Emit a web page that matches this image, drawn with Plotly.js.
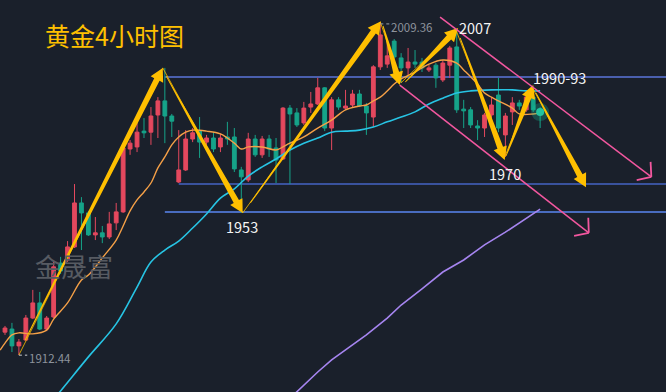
<!DOCTYPE html>
<html><head><meta charset="utf-8">
<script src="https://cdn.plot.ly/plotly-3.0.1.min.js"></script>
<style>html,body{margin:0;padding:0;background:#1a202b;}#chart{width:666px;height:392px;}</style>
</head><body><div id="chart"></div>
<script>
// ---- candle data (4h gold) ----
const open=[1919.1,1920.0,1915.1,1916.8,1923.2,1927.6,1920.0,1923.5,1939.2,1940.1,
1943.9,1956.7,1953.8,1947.4,1948.0,1946.8,1950.9,1954.1,1972.4,1973.0,
1977.6,1977.3,1982.3,1986.4,1982.0,1962.8,1966.3,1975.3,1977.6,1974.4,
1975.6,1973.0,1975.9,1975.9,1966.3,1963.4,1975.3,1970.7,1975.3,1972.7,
1969.5,1984.3,1982.9,1980.0,1984.6,1985.5,1990.2,1978.5,1986.7,1984.3,
1985.2,1988.4,1984.9,1981.7,1996.3,1997.1,2003.8,1998.9,1996.0,1997.7,
1997.7,1995.4,1996.8,1992.5,1996.8,2002.1,1984.0,1983.8,1979.1,1978.5,
1982.3,1988.1,1976.5,1983.2,1985.8,1983.8,1987.5,1983.8];
const high=[1920.9,1921.8,1917.1,1924.1,1931.4,1930.8,1923.8,1940.1,1941.0,1945.6,
1962.2,1958.4,1954.4,1952.6,1950.0,1954.1,1956.7,1973.6,1975.0,1981.7,
1981.4,1984.6,1987.5,1996.0,1982.6,1977.9,1977.9,1978.5,1981.7,1976.5,
1977.3,1976.8,1980.3,1978.5,1967.2,1977.1,1976.5,1976.2,1976.5,1975.6,
1984.6,1985.2,1984.3,1986.1,1989.0,1993.1,1990.4,1987.5,1987.5,1989.6,
1989.6,1989.6,1985.8,1996.8,2009.36,2004.4,2004.4,2000.3,2001.8,2001.2,
1998.9,1996.8,1997.4,1998.3,2002.4,2007.0,1986.7,1984.6,1980.8,1982.9,
1987.5,1993.1,1982.9,1987.5,1986.7,1988.7,1990.2,1984.6];
const low=[1918.3,1913.3,1912.44,1916.5,1922.9,1919.7,1919.4,1923.2,1936.0,1939.5,
1943.6,1943.0,1947.1,1945.9,1945.0,1946.2,1948.8,1953.8,1970.7,1971.5,
1975.6,1973.6,1975.6,1974.1,1975.9,1962.5,1966.0,1974.4,1969.8,1973.6,
1971.5,1971.5,1973.6,1965.7,1953.8,1962.8,1970.1,1969.8,1970.1,1962.5,
1969.2,1962.2,1978.8,1979.4,1982.9,1985.2,1977.6,1972.1,1983.8,1983.8,
1984.6,1984.6,1976.5,1978.8,1995.4,1996.0,1998.6,1991.6,1993.9,1996.0,
1994.8,1994.8,1990.2,1991.9,1993.1,1982.9,1978.5,1978.5,1975.0,1975.9,
1978.8,1977.3,1970.1,1979.4,1983.8,1983.2,1983.2,1978.5];
const close=[1920.3,1915.1,1916.2,1923.2,1927.6,1920.0,1923.2,1938.1,1936.9,1943.9,
1956.7,1953.8,1947.4,1948.0,1946.8,1950.6,1954.1,1972.7,1974.1,1977.3,
1977.1,1982.0,1986.4,1982.0,1980.5,1966.3,1975.3,1977.1,1974.4,1975.6,
1972.4,1975.6,1975.3,1966.6,1964.3,1975.3,1970.7,1975.3,1972.4,1969.2,
1984.3,1982.6,1979.4,1984.3,1985.5,1990.2,1978.5,1986.7,1984.6,1984.9,
1988.4,1984.9,1982.9,1996.3,2005.6,1999.5,1999.2,1996.0,1997.7,1997.1,
1996.0,1996.0,1993.1,1997.4,2001.8,1983.8,1983.5,1979.4,1978.5,1982.3,
1985.2,1978.5,1982.0,1985.8,1984.9,1987.5,1983.8,1982.9];

// ---- moving averages ----
const maFastIdx=[-0.7,0,1,2,4,6,7,9,11,12,14,16,17,18,19,20,21,22,23,24,25,26,27,29,31,33,34,35,37,39,40,41,43,45,47,49,51,52,53,54,55,56,57,59,61,63,65,66,67,68,69,70,71,73,74,76,77];
const maFastVal=[1913.9,1915.9,1918.3,1918.9,1918.6,1919.7,1922.9,1927.6,1934.3,1935.7,1940.7,1945.9,1950.0,1954.4,1957.6,1959.9,1962.5,1966.9,1970.1,1973.6,1975.9,1977.3,1977.9,1977.6,1976.8,1974.1,1972.4,1973.0,1973.0,1972.1,1973.0,1974.1,1975.9,1978.5,1980.8,1983.8,1984.9,1985.2,1986.4,1987.5,1989.3,1991.3,1992.8,1994.8,1997.1,1998.3,1997.4,1995.4,1993.4,1991.3,1988.7,1987.5,1986.4,1984.3,1982.6,1982.6,1982.9];
const maMidIdx=[5,8,12,16,19,21,23,25,27,29,31,33,35,37,39,41,43,45,47,49,51,53,55,57,59,61,63,65,67,70,73,75,77];
const maMidVal=[1894.7,1902.0,1911.9,1921.5,1932.2,1939.5,1943.0,1945.6,1949.4,1953.5,1958.1,1960.8,1964.5,1967.2,1969.5,1972.1,1974.1,1975.6,1977.3,1977.6,1977.9,1978.8,1980.3,1981.7,1983.2,1985.5,1987.2,1988.7,1989.3,1989.6,1989.6,1989.3,1989.3];
const maSlowIdx=[40,42,45,47,50,52,55,57,60,63,66,69,72,75,77];
const maSlowVal=[1897.9,1901.7,1907.5,1911.0,1915.4,1918.3,1923.2,1927.0,1931.7,1936.6,1940.1,1944.5,1948.2,1952.3,1954.9];

// ---- drawn levels / waves ----
const levelPrice=[1993.35,1962.21,1954.06];
const levelStart=[23,25,23];
const waveIdx=[2,22.7,34.2,54,57,64.9,71.9,75.9,83.3];
const waveVal=[1912.44,1996.0,1953.8,2009.36,1991.7,2007.0,1970.1,1990.2,1962.5];
// thick arrows: tail idx, tail price, head idx, head price
const arrowTailIdx=[2.9,23.2,35.3,54.4,57.6,65.5,72.1,76.4];
const arrowTailVal=[1916.8,1993.6,1956.7,2008.2,1991.9,2004.7,1970.4,1988.7];
const arrowHeadIdx=[22.7,34.2,54.1,56.8,65.2,71.9,76.0,83.6];
const arrowHeadVal=[1996.0,1953.8,2009.6,1991.0,2007.6,1969.2,1991.0,1961.3];
// channel lines
const chanStartIdx=[62.6,56.8], chanStartVal=[2010.8,1991.0];
const chanEndIdx=[93.0,84.0], chanEndVal=[1964.3,1948.0];

const labelText=['2007','1990-93','1970','1953'];
const labelIdx=[65.1,75.7,69.4,31.5];
const labelVal=[2007.8,1993.2,1965.3,1949.7];

const X0=-0.719, X1=95.11, Y0=1901.68, Y1=2015.76, W=666, H=392;
const px=i=>(i-X0)/(X1-X0)*W, py=p=>(Y1-p)/(Y1-Y0)*H;
const ix=x=>X0+x/W*(X1-X0), ip=y=>Y1-y/H*(Y1-Y0);

const idx=open.map((_,i)=>i);
const GOLD='#ffbf00', PINK='#f2579f';

const traces=[
 {type:'scatter',mode:'lines',x:maSlowIdx,y:maSlowVal,line:{color:'#a685f0',width:1.6},hoverinfo:'skip'},
 {type:'scatter',mode:'lines',x:maMidIdx,y:maMidVal,line:{color:'#27c4e4',width:1.6,shape:'spline'},hoverinfo:'skip'},
 {type:'scatter',mode:'lines',x:maFastIdx,y:maFastVal,line:{color:'#f5a047',width:1.4,shape:'spline'},hoverinfo:'skip'},
 {type:'candlestick',x:idx,open:open,high:high,low:low,close:close,
  increasing:{line:{color:'#e4485e',width:1},fillcolor:'#e4485e'},
  decreasing:{line:{color:'#16a389',width:1},fillcolor:'#16a389'},
  whiskerwidth:0,hoverinfo:'skip'},
 {type:'scatter',mode:'lines',x:waveIdx,y:waveVal,line:{color:'rgba(240,180,0,0.85)',width:1},hoverinfo:'skip'},
 {type:'scatter',mode:'markers',x:[idx[idx.length-1]],y:[1983.16],marker:{size:18,color:'rgba(22,190,150,0.28)'},hoverinfo:'skip'},
 {type:'scatter',mode:'markers',x:[idx[idx.length-1]],y:[1983.16],marker:{size:8,color:'#22c49f'},hoverinfo:'skip'}
];

const shapes=[];
const lvlStyle=[{c:'#4a5fae',w:2},{c:'#4563c4',w:1.5},{c:'#5a86f2',w:1.3}];
levelPrice.forEach((p,k)=>shapes.push({type:'line',xref:'x',yref:'y',x0:levelStart[k],x1:X1,y0:p,y1:p,line:{color:lvlStyle[k].c,width:lvlStyle[k].w},layer:'below'}));

function toPath(pts){return 'M'+pts.map(q=>ix(q[0])+','+ip(q[1])).join(' L')+' Z';}
arrowTailIdx.forEach((_,k)=>{
  const a=[px(arrowTailIdx[k]),py(arrowTailVal[k])], b=[px(arrowHeadIdx[k]),py(arrowHeadVal[k])];
  const dx=b[0]-a[0], dy=b[1]-a[1], L=Math.hypot(dx,dy), ux=dx/L, uy=dy/L, nx=-uy, ny=ux;
  const hl=13, hw=7, sw=3, tw=0.4;
  const N=[b[0]-ux*hl,b[1]-uy*hl];
  const pts=[[a[0]+nx*tw,a[1]+ny*tw],[N[0]+nx*sw,N[1]+ny*sw],[N[0]+nx*hw,N[1]+ny*hw],b,
             [N[0]-nx*hw,N[1]-ny*hw],[N[0]-nx*sw,N[1]-ny*sw],[a[0]-nx*tw,a[1]-ny*tw]];
  shapes.push({type:'path',xref:'x',yref:'y',path:toPath(pts),fillcolor:GOLD,line:{width:0}});
});
chanStartIdx.forEach((_,k)=>{
  shapes.push({type:'line',xref:'x',yref:'y',x0:chanStartIdx[k],y0:chanStartVal[k],x1:chanEndIdx[k],y1:chanEndVal[k],line:{color:PINK,width:1.5}});
  const a=[px(chanStartIdx[k]),py(chanStartVal[k])], b=[px(chanEndIdx[k]),py(chanEndVal[k])];
  const dx=b[0]-a[0], dy=b[1]-a[1], L=Math.hypot(dx,dy), vx=-dx/L, vy=-dy/L, len=15;
  [1,-1].forEach(s=>{const t=s*50*Math.PI/180;
    const rx=vx*Math.cos(t)-vy*Math.sin(t), ry=vx*Math.sin(t)+vy*Math.cos(t);
    shapes.push({type:'line',xref:'x',yref:'y',x0:chanEndIdx[k],y0:chanEndVal[k],x1:ix(b[0]+rx*len),y1:ip(b[1]+ry*len),line:{color:PINK,width:1.8}});
  });
});
// dotted leaders for extreme price tags
shapes.push({type:'line',xref:'x',yref:'y',x0:54,x1:55.3,y0:2008.8,y1:2008.8,line:{color:'#9aa0aa',width:1,dash:'dot'}});
shapes.push({type:'line',xref:'x',yref:'y',x0:2,x1:3.2,y0:1912.4,y1:1912.4,line:{color:'#c8ccd2',width:1,dash:'dot'}});

const FONT='"Noto Sans CJK SC","Noto Sans",sans-serif';
const annotations=labelText.map((t,k)=>({xref:'x',yref:'y',x:labelIdx[k],y:labelVal[k],text:t,showarrow:false,xanchor:'left',yanchor:'middle',font:{family:FONT,size:14.5,color:'#f4f4f4'}}));
annotations.push({xref:'x',yref:'y',x:55.3,y:2008.0,text:'2009.36',showarrow:false,xanchor:'left',yanchor:'middle',font:{family:FONT,size:11.5,color:'#8d939c'}});
annotations.push({xref:'x',yref:'y',x:3.2,y:1911.5,text:'1912.44',showarrow:false,xanchor:'left',yanchor:'middle',font:{family:FONT,size:11.5,color:'#8d939c'}});
annotations.push({xref:'paper',yref:'paper',x:33/666,y:1-265/392,text:'金晟富',showarrow:false,xanchor:'left',yanchor:'middle',font:{family:FONT,size:26,color:'#575b62'}});

const layout={
  width:666,height:392,margin:{l:0,r:0,t:0,b:0,pad:0},
  paper_bgcolor:'#1a202b',plot_bgcolor:'#1a202b',showlegend:false,boxgap:0.22,
  title:{text:'黄金4小时图',x:45/666,xanchor:'left',y:1-37/392,yanchor:'middle',font:{family:FONT,size:25,color:'#ffc000'}},
  xaxis:{range:[X0,X1],visible:false,rangeslider:{visible:false},fixedrange:true},
  yaxis:{range:[Y0,Y1],visible:false,fixedrange:true},
  shapes:shapes,annotations:annotations
};
Plotly.newPlot('chart',traces,layout,{staticPlot:true,displayModeBar:false});
</script></body></html>
